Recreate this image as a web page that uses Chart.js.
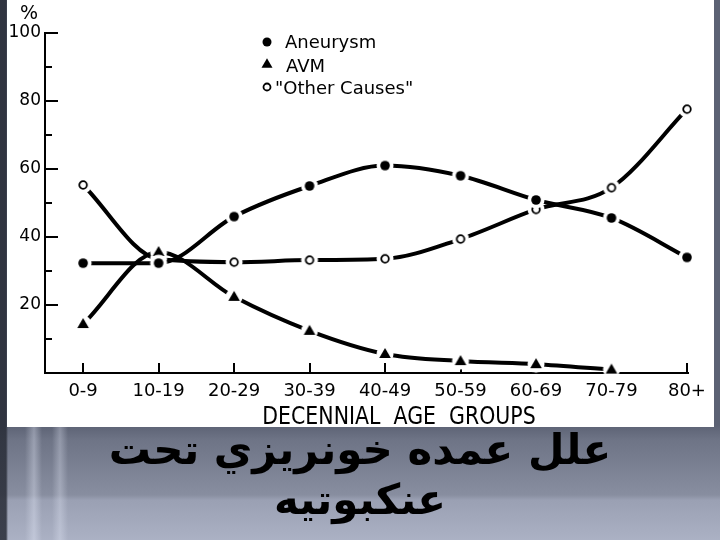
<!DOCTYPE html>
<html>
<head>
<meta charset="utf-8">
<script src="https://cdn.jsdelivr.net/npm/chart.js@4.4.1/dist/chart.umd.min.js"></script>
<style>
  html, body { margin: 0; padding: 0; }
  body {
    width: 720px; height: 540px; overflow: hidden; position: relative;
    background:
      linear-gradient(90deg, rgba(40,44,55,0.85) 0px, rgba(40,44,55,0.85) 6px, rgba(0,0,0,0) 8px),
      linear-gradient(90deg, rgba(255,255,255,0) 25px, rgba(235,240,255,0.35) 34px, rgba(255,255,255,0) 42px, rgba(255,255,255,0) 52px, rgba(235,240,255,0.3) 60px, rgba(255,255,255,0) 68px),
      linear-gradient(180deg, #5c6274 0px, #5c6274 425px, #6e7486 440px, #888ea0 495px, #9aa0b3 500px, #abb1c4 540px);
  }
  #panel { position: absolute; left: 7px; top: 0px; width: 707px; height: 427px; background: #ffffff; }
  #title {
    position: absolute; left: 0; top: 425px; width: 720px; text-align: center;
    direction: rtl; font-family: "DejaVu Sans", sans-serif; font-weight: bold;
    font-size: 42px; line-height: 50px; color: #000;
  }
</style>
</head>
<body>
<div id="panel"><canvas id="c" width="707" height="427"></canvas></div>
<div id="title">علل عمده خونريزي تحت<br>عنکبوتيه</div>
<script>
const ageGroups = ['0-9', '10-19', '20-29', '30-39', '40-49', '50-59', '60-69', '70-79', '80+'];
const aneurysm = [32.3, 32.3, 46.0, 55.0, 61.0, 58.0, 50.9, 45.6, 34.0];
const avm = [14.4, 35.6, 22.4, 12.4, 5.6, 3.5, 2.6, 1.0, null];
const otherCauses = [55.3, 33.5, 32.6, 33.2, 33.6, 39.4, 48.1, 54.5, 77.6];
const yTickLabels = ['20', '40', '60', '80', '100'];
const legendLabels = ['Aneurysm', 'AVM', '"Other Causes"'];
const axisTitle = 'DECENNIAL  AGE  GROUPS';
const unitLabel = '%';

const FONT = '"DejaVu Sans", sans-serif';

function drawFilledCircle(ctx, x, y, r) {
  ctx.beginPath(); ctx.arc(x, y, r, 0, Math.PI * 2); ctx.fillStyle = '#000'; ctx.fill();
}
function drawTriangle(ctx, x, y, s) {
  ctx.beginPath();
  ctx.moveTo(x, y - s * 1.05);
  ctx.lineTo(x + s, y + s * 0.7);
  ctx.lineTo(x - s, y + s * 0.7);
  ctx.closePath(); ctx.fillStyle = '#000'; ctx.fill();
}
function drawOpenCircle(ctx, x, y, r) {
  ctx.beginPath(); ctx.arc(x, y, r, 0, Math.PI * 2);
  ctx.fillStyle = '#fff'; ctx.fill();
  ctx.lineWidth = 1.8; ctx.strokeStyle = '#000'; ctx.stroke();
}
function makeMarker(kind) {
  const cv = document.createElement('canvas');
  cv.width = 20; cv.height = 20;
  const g = cv.getContext('2d');
  g.beginPath(); g.arc(10, 10, 8.5, 0, Math.PI * 2); g.fillStyle = '#fff'; g.fill();
  if (kind === 'circle') drawFilledCircle(g, 10, 10, 4.8);
  else if (kind === 'triangle') drawTriangle(g, 10, 10, 5.8);
  else drawOpenCircle(g, 10, 10, 3.8);
  return cv;
}
const markerCircle = makeMarker('circle');
const markerTriangle = makeMarker('triangle');
const markerOpen = makeMarker('open');

function toPoints(arr) { return arr.map((v, i) => ({ x: i, y: v })); }

const decorPlugin = {
  id: 'decor',
  beforeDatasetsDraw(chart) {
    const ctx = chart.ctx;
    const xs = chart.scales.x, ys = chart.scales.y;
    const left = chart.chartArea.left, bottom = chart.chartArea.bottom;
    ctx.save();
    ctx.strokeStyle = '#000'; ctx.lineWidth = 2;
    for (let v = 10; v <= 100; v += 10) {
      const y = Math.round(ys.getPixelForValue(v));
      const len = (v % 20 === 0) ? 13 : 7;
      ctx.beginPath(); ctx.moveTo(left, y); ctx.lineTo(left + len, y); ctx.stroke();
    }
    for (let i = 0; i < ageGroups.length; i++) {
      const x = Math.round(xs.getPixelForValue(i));
      ctx.beginPath(); ctx.moveTo(x, bottom); ctx.lineTo(x, bottom - 10); ctx.stroke();
    }
    ctx.restore();
  },
  afterDraw(chart) {
    const ctx = chart.ctx;
    ctx.save();
    // legend markers
    const mx = 260;
    drawFilledCircle(ctx, mx, 42, 4.5);
    drawTriangle(ctx, mx, 64, 5.5);
    drawOpenCircle(ctx, mx, 87, 3.5);
    ctx.fillStyle = '#000';
    ctx.textBaseline = 'alphabetic';
    // unit label
    ctx.font = '19px ' + FONT; ctx.textAlign = 'center';
    ctx.fillText(unitLabel, 22, 19);
    // legend texts
    ctx.font = '18px ' + FONT; ctx.textAlign = 'left';
    ctx.fillText(legendLabels[0], 278, 48);
    ctx.fillText(legendLabels[1], 279, 72);
    ctx.fillText(legendLabels[2], 268, 94);
    // axis title (slightly tall lettering)
    ctx.save();
    ctx.translate(392, 424);
    ctx.scale(1, 1.2);
    ctx.font = '20.5px ' + FONT; ctx.textAlign = 'center';
    ctx.fillText(axisTitle, 0, 0);
    ctx.restore();
    ctx.restore();
  }
};

const lineCommon = {
  borderColor: '#000', borderWidth: 4, cubicInterpolationMode: 'monotone', clip: false,
  pointRadius: 6, pointHoverRadius: 6, spanGaps: false, fill: false
};

new Chart(document.getElementById('c'), {
  type: 'line',
  data: {
    datasets: [
      Object.assign({ label: legendLabels[0], data: toPoints(aneurysm), pointStyle: markerCircle }, lineCommon),
      Object.assign({ label: legendLabels[1], data: toPoints(avm), pointStyle: markerTriangle }, lineCommon),
      Object.assign({ label: legendLabels[2], data: toPoints(otherCauses), pointStyle: markerOpen }, lineCommon)
    ]
  },
  options: {
    responsive: false, animation: false, devicePixelRatio: 1,
    layout: { padding: { left: 0, right: 19, top: 33, bottom: 0 } },
    plugins: { legend: { display: false }, tooltip: { enabled: false }, title: { display: false } },
    scales: {
      x: {
        type: 'linear', min: -0.505, max: 8.02,
        grid: { display: false, drawTicks: false },
        border: { display: true, color: '#000', width: 2 },
        ticks: {
          stepSize: 1, includeBounds: false, autoSkip: false, maxRotation: 0,
          color: '#000', font: { family: FONT, size: 18 }, padding: 8,
          callback: (v) => (Number.isInteger(v) && ageGroups[v] !== undefined) ? ageGroups[v] : ''
        },
        afterFit: (s) => { s.height = 54; }
      },
      y: {
        type: 'linear', min: 0, max: 100,
        grid: { display: false, drawTicks: false },
        border: { display: true, color: '#000', width: 2 },
        ticks: {
          stepSize: 10, color: '#000', font: { family: FONT, size: 17 }, padding: 4,
          callback: (v) => (v > 0 && v % 20 === 0) ? yTickLabels[v / 20 - 1] : ''
        },
        afterFit: (s) => { s.width = 38; }
      }
    }
  },
  plugins: [decorPlugin]
});
</script>
</body>
</html>
